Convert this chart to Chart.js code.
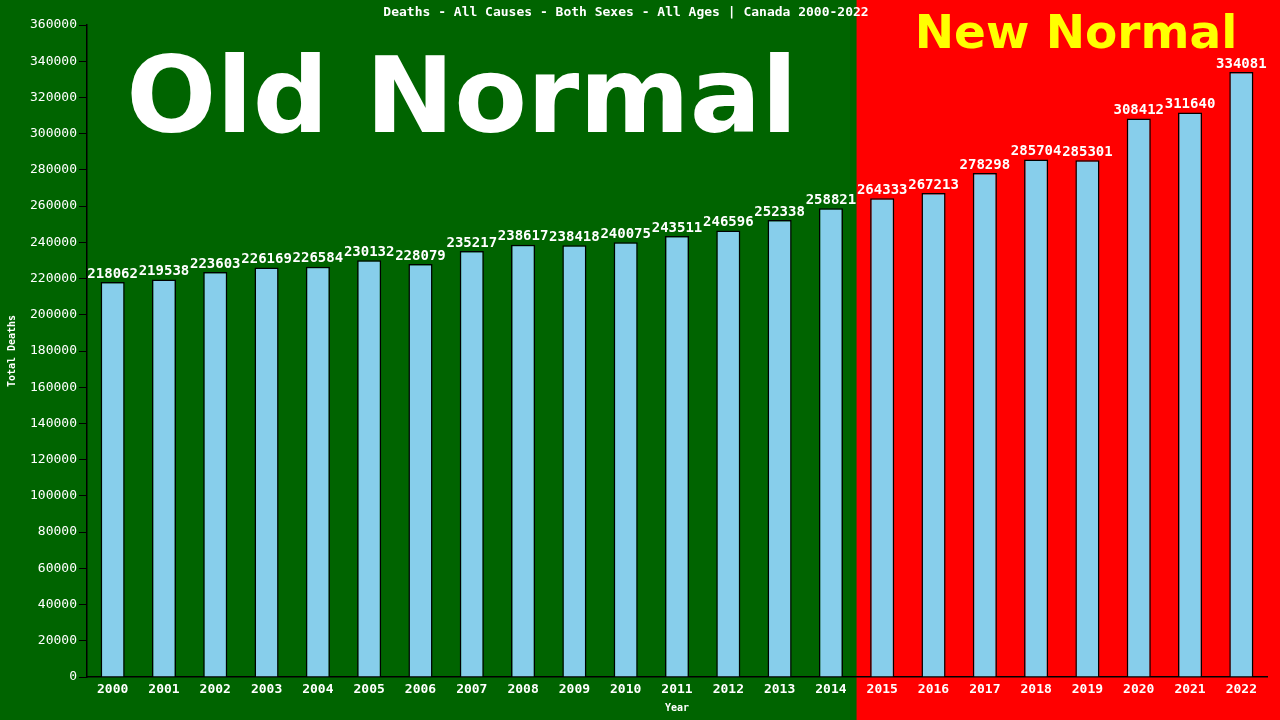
<!DOCTYPE html>
<html><head><meta charset="utf-8">
<script src="https://cdn.jsdelivr.net/npm/chart.js@4"></script>
<style>html,body{margin:0;padding:0;background:#006400}</style>
</head><body>
<canvas id="c" width="1280" height="720"></canvas>
<script>
const years = ['2000','2001','2002','2003','2004','2005','2006','2007','2008','2009','2010','2011','2012','2013','2014','2015','2016','2017','2018','2019','2020','2021','2022'];
const deaths = [218062,219538,223603,226169,226584,230132,228079,235217,238617,238418,240075,243511,246596,252338,258821,264333,267213,278298,285704,285301,308412,311640,334081];
const yTicks = [0,20000,40000,60000,80000,100000,120000,140000,160000,180000,200000,220000,240000,260000,280000,300000,320000,340000,360000];
const splitYear = '2015';
const mono = '"DejaVu Sans Mono", monospace';

// Hintergrund: grün für alte, rot für neue Normalität
const bgPlugin = {
  id: 'bg',
  beforeDraw(chart) {
    const {ctx, width, height, scales: {x}} = chart;
    const i = years.indexOf(splitYear);
    const split = (x.getPixelForValue(i - 1) + x.getPixelForValue(i)) / 2;
    ctx.save();
    ctx.fillStyle = '#006400';
    ctx.fillRect(0, 0, width, height);
    ctx.fillStyle = '#ff0000';
    ctx.fillRect(split, 0, width - split, height);
    ctx.font = 'bold 106px "DejaVu Sans", sans-serif';
    ctx.fillStyle = '#ffffff';
    ctx.textAlign = 'center';
    ctx.textBaseline = 'middle';
    ctx.fillText('Old Normal', 462, 104);
    ctx.font = 'bold 47px "DejaVu Sans", sans-serif';
    ctx.fillStyle = '#ffff00';
    ctx.fillText('New Normal', 1076, 36);
    ctx.font = 'bold 13px ' + mono;
    ctx.fillStyle = '#ffffff';
    ctx.fillText('Deaths - All Causes - Both Sexes - All Ages | Canada 2000-2022', 626, 13);
    ctx.restore();
  },
  afterDatasetsDraw(chart) {
    const {ctx} = chart;
    const meta = chart.getDatasetMeta(0);
    ctx.save();
    ctx.font = 'bold 14px ' + mono;
    ctx.fillStyle = '#ffffff';
    ctx.textAlign = 'center';
    ctx.textBaseline = 'bottom';
    meta.data.forEach((bar, i) => ctx.fillText(String(deaths[i]), bar.x, bar.y - 1));
    ctx.restore();
  }
};

new Chart(document.getElementById('c'), {
  type: 'bar',
  data: {
    labels: years,
    datasets: [{
      data: deaths,
      backgroundColor: '#87ceeb',
      borderColor: '#000000',
      borderWidth: 1.5,
      categoryPercentage: 1,
      barPercentage: 0.47
    }]
  },
  options: {
    responsive: false,
    animation: false,
    layout: {padding: {top: 25, right: 13, left: 6, bottom: 6}},
    plugins: {legend: {display: false}, title: {display: false}, tooltip: {enabled: false}},
    scales: {
      x: {
        afterFit: s => { s.height = 37; },
        grid: {drawOnChartArea: false, drawTicks: false},
        border: {color: '#000000', width: 1.5},
        ticks: {color: '#ffffff', font: {family: mono, size: 13, weight: 'bold'}, padding: 5, maxRotation: 0},
        title: {display: true, text: 'Year', color: '#ffffff', font: {family: mono, size: 10, weight: 'bold'}, padding: 0}
      },
      y: {
        min: 0, max: 360000,
        afterFit: s => { s.width = 81; },
        afterBuildTicks: s => { s.ticks = yTicks.map(v => ({value: v})); },
        grid: {drawOnChartArea: false, color: '#000000', tickLength: 8},
        border: {color: '#000000', width: 1.5},
        ticks: {color: '#ffffff', font: {family: mono, size: 13}, padding: 2, callback: v => String(v)},
        title: {display: true, text: 'Total Deaths', color: '#ffffff', font: {family: mono, size: 10, weight: 'bold'}, padding: 0}
      }
    }
  },
  plugins: [bgPlugin]
});
</script>
</body></html>
